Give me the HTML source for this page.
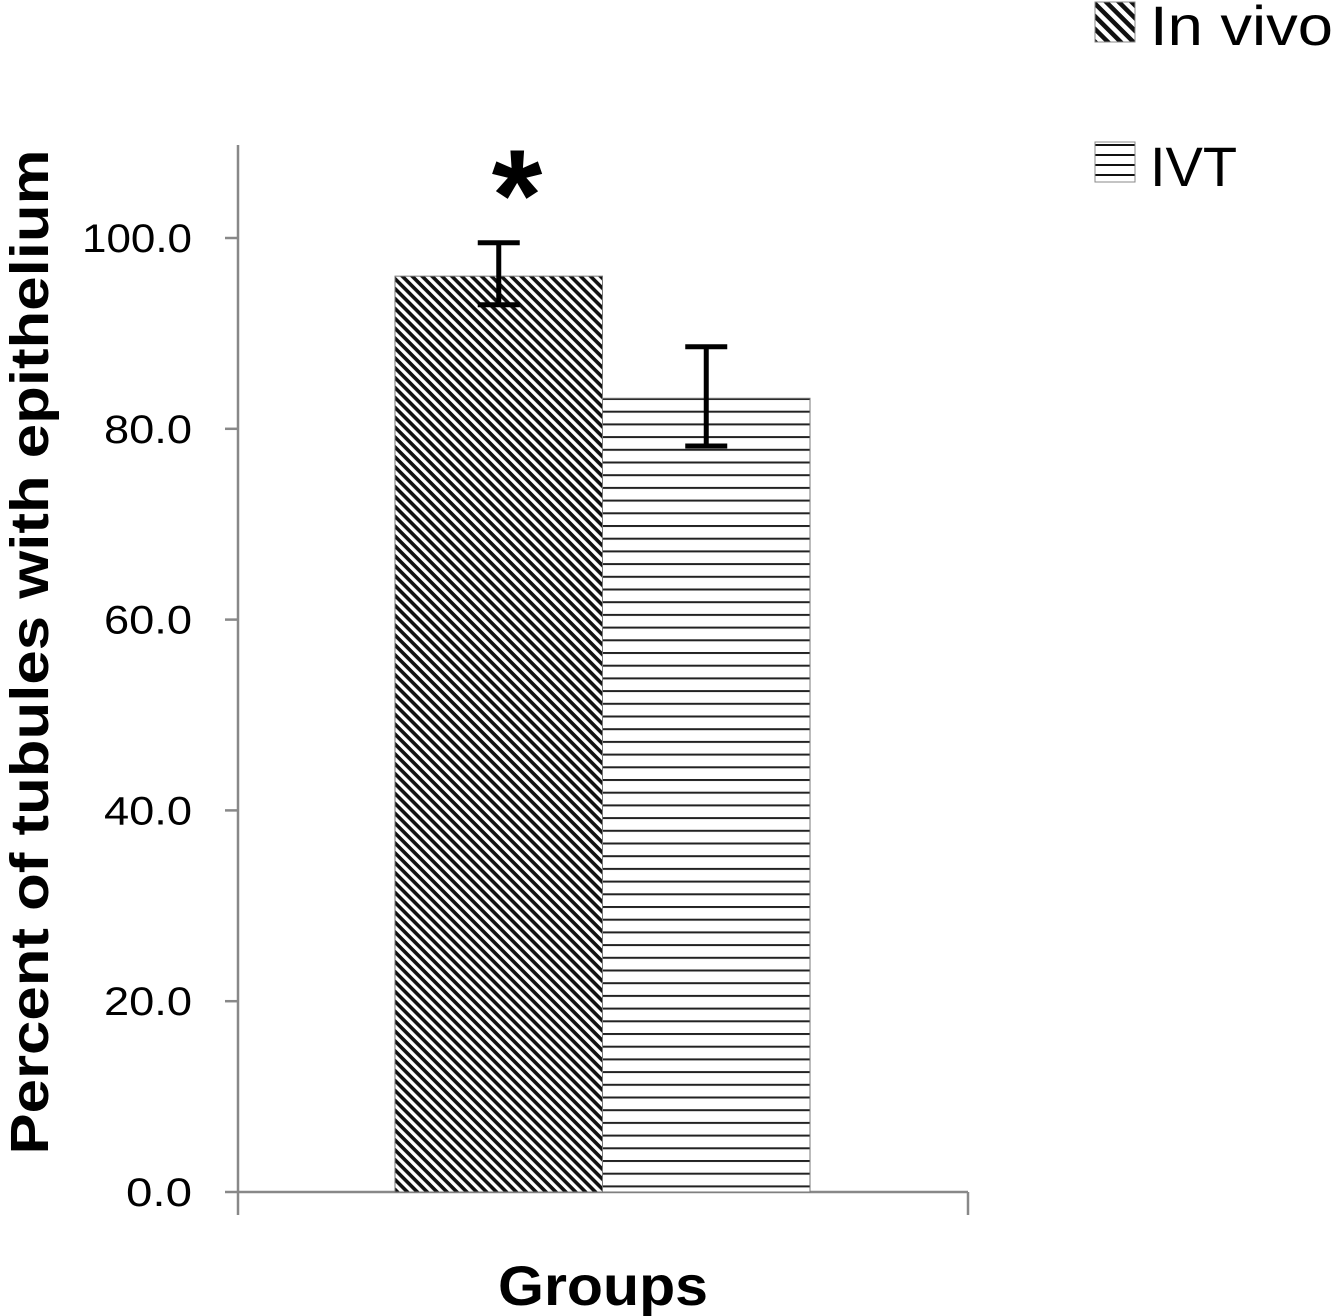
<!DOCTYPE html>
<html><head><meta charset="utf-8"><style>
html,body{margin:0;padding:0;background:#fff;}
svg{display:block;font-family:"Liberation Sans",sans-serif;}
</style></head><body>
<svg id="chart" width="1333" height="1316" viewBox="0 0 1333 1316">
<defs>
<pattern id="diag" patternUnits="userSpaceOnUse" width="7" height="7" patternTransform="rotate(45)">
<rect width="7" height="7" fill="#fff"/><rect width="7" height="3.6" fill="#111"/>
</pattern>
<pattern id="horiz" patternUnits="userSpaceOnUse" width="10" height="12.7" y="398">
<rect width="10" height="12.7" fill="#fff"/><rect width="10" height="2" fill="#222"/>
</pattern>
<pattern id="diagS" patternUnits="userSpaceOnUse" width="9" height="9" patternTransform="rotate(45)">
<rect width="9" height="9" fill="#fff"/><rect width="9" height="4.5" fill="#111"/>
</pattern>
<pattern id="horizS" patternUnits="userSpaceOnUse" width="10" height="10" y="144">
<rect width="10" height="10" fill="#fff"/><rect width="10" height="2" fill="#111"/>
</pattern>
</defs>
<g id="axes"></g>
<g id="bars"></g>
<text x="0" y="0" transform="translate(48,652) rotate(-90)" text-anchor="middle" font-size="54" font-weight="bold" textLength="1005" lengthAdjust="spacingAndGlyphs">Percent of tubules with epithelium</text>
<text x="603" y="1305" text-anchor="middle" font-size="56" font-weight="bold" textLength="210" lengthAdjust="spacingAndGlyphs">Groups</text>
<text x="517" y="240" text-anchor="middle" font-size="130" font-weight="bold">*</text>
<g>
<rect x="1095" y="2" width="40" height="40" fill="url(#diagS)" stroke="#888" stroke-width="1"/>
<text x="1150" y="45" font-size="56" textLength="183" lengthAdjust="spacingAndGlyphs">In vivo</text>
<rect x="1095" y="142" width="40" height="40" fill="url(#horizS)" stroke="#888" stroke-width="1"/>
<text x="1150" y="186" font-size="56">IVT</text>
</g>
</svg>
<script>
const categories = ["In vivo", "IVT"];
const values = [96.0, 83.2];
const errHigh = [99.5, 88.6];
const errLow = [93.0, 78.2];
const ticks = [0, 20, 40, 60, 80, 100];
const tickLabels = ["0.0", "20.0", "40.0", "60.0", "80.0", "100.0"];

const NS = "http://www.w3.org/2000/svg";
const y = v => 1192 - v * 9.54;
const barX = i => 395 + i * 207.5;
const barW = 207.5;
const fills = ["url(#diag)", "url(#horiz)"];
function mk(tag, attrs, parent) {
  const e = document.createElementNS(NS, tag);
  for (const k in attrs) e.setAttribute(k, attrs[k]);
  parent.appendChild(e);
  return e;
}
const axes = document.getElementById("axes");
let yl = mk("line", {x1: 238, y1: 145, x2: 238, y2: 1192, stroke: "#888", "stroke-width": 2.5}, axes);


let xl = mk("line", {x1: 238, y1: 1192, x2: 968, y2: 1192, stroke: "#888", "stroke-width": 2.5}, axes);


[238, 968].forEach(x => {
  const t = mk("line", {x1: x, y1: 1192, x2: x, y2: 1215, stroke: "#888", "stroke-width": 2.5}, axes);
  
  
});
ticks.forEach((v, i) => {
  const t = mk("line", {x1: 225, y1: y(v), x2: 238, y2: y(v), stroke: "#888", "stroke-width": 2.5}, axes);
  
  
  const l = mk("text", {x: 192, y: y(v) + 14, "text-anchor": "end", "font-size": 40, textLength: 22 * tickLabels[i].length, lengthAdjust: "spacingAndGlyphs"}, axes);
  l.textContent = tickLabels[i];
  
  
});
const bars = document.getElementById("bars");
categories.forEach((c, i) => {
  const r = mk("rect", {x: barX(i), y: y(values[i]), width: barW, height: y(0) - y(values[i]), fill: fills[i], stroke: "#777", "stroke-width": 1}, bars);
  
  
  const cx = barX(i) + barW / 2;
  const g = mk("g", {stroke: "#000", "stroke-width": 5}, bars);
  
  
  mk("line", {x1: cx, y1: y(errHigh[i]), x2: cx, y2: y(errLow[i])}, g);
  mk("line", {x1: cx - 21, y1: y(errHigh[i]), x2: cx + 21, y2: y(errHigh[i])}, g);
  mk("line", {x1: cx - 21, y1: y(errLow[i]), x2: cx + 21, y2: y(errLow[i])}, g);
});
</script>
</body></html>
